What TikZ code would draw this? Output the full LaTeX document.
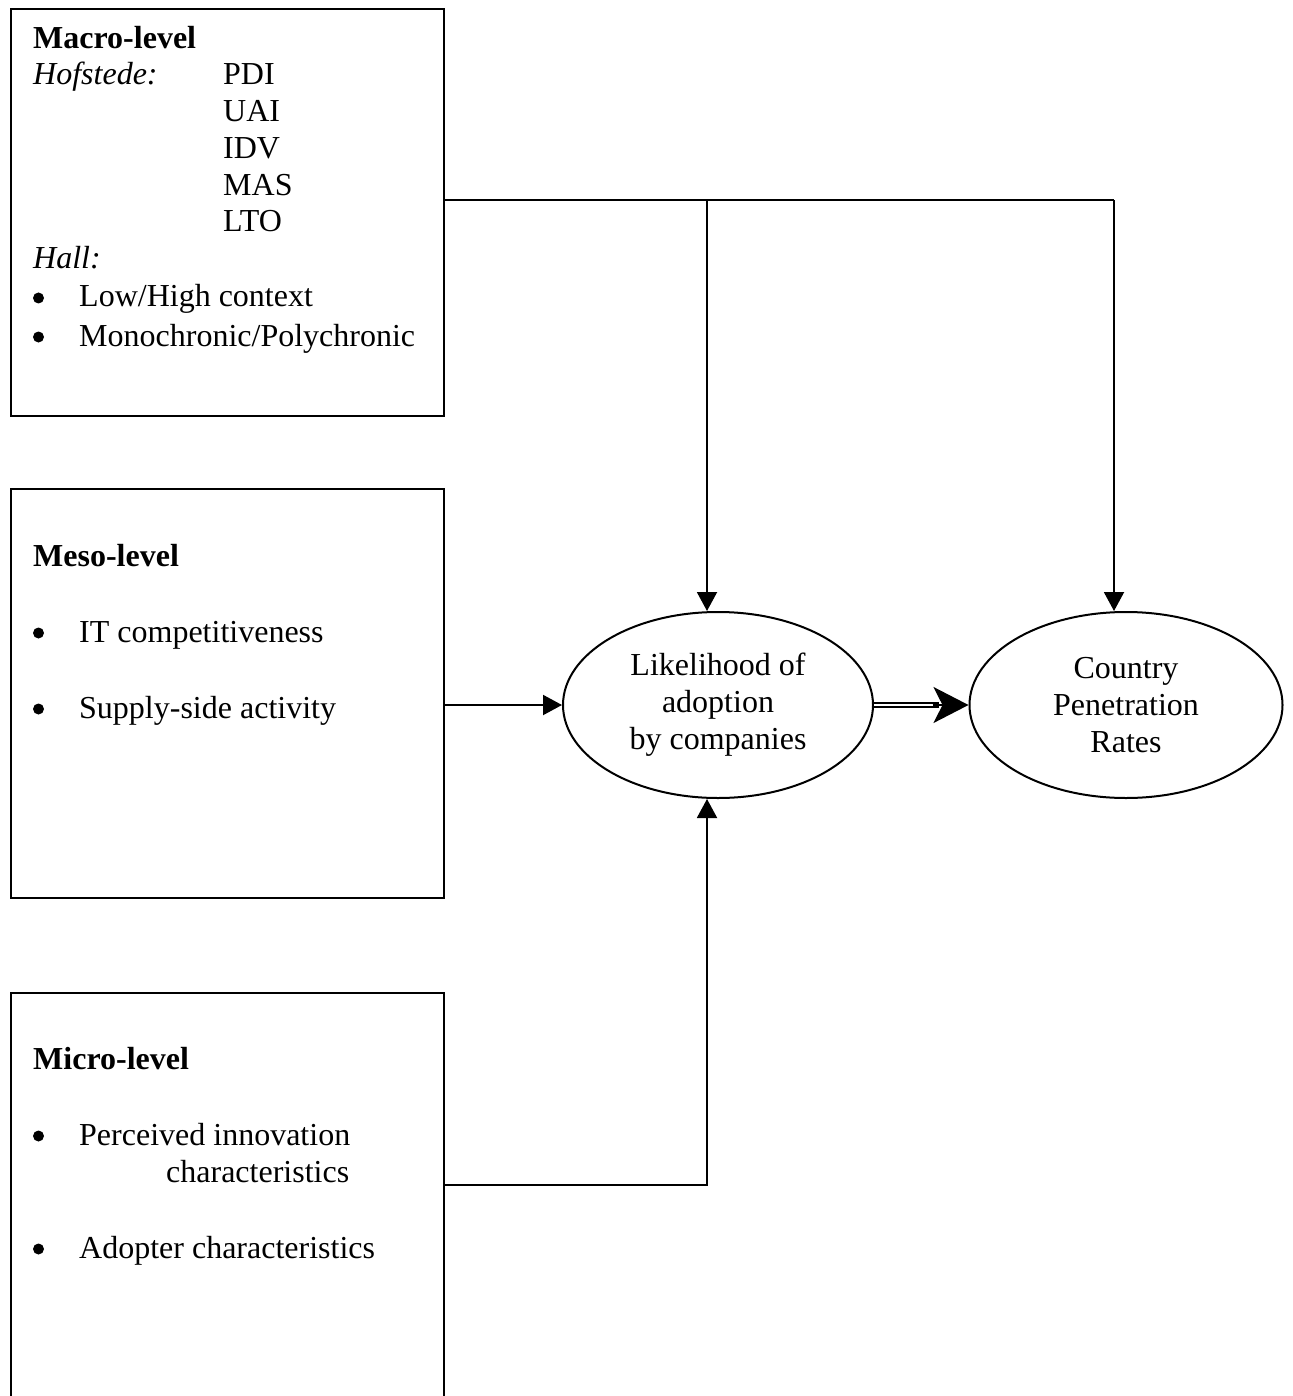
\documentclass[tikz,border=0pt]{standalone}
\usepackage{fontspec}
\setmainfont{Liberation Serif}
\usetikzlibrary{shapes.geometric,arrows.meta}
\begin{document}
\begin{tikzpicture}[x=1pt,y=-1pt,
  box/.style={draw,line width=2pt,rectangle,inner sep=0pt,minimum width=433pt,anchor=north west},
  oval/.style={draw,line width=2pt,ellipse,inner sep=0pt,minimum width=310pt,minimum height=186pt,align=center,font=\fontsize{32pt}{37pt}\selectfont},
  txt/.style={inner sep=0pt,anchor=base west,font=\fontsize{32pt}{37pt}\selectfont},
  dot/.style={circle,fill=black,inner sep=0pt,minimum size=11pt},
  conn/.style={line width=2pt},
  arr/.style={line width=2pt,-{Triangle[length=19pt,width=20pt]}}]
\clip (0,0) rectangle (1292,1396);
\fill[white] (0,0) rectangle (1292,1396);
% boxes
\node[box,minimum height=407pt] (macro) at (10,8) {};
\node[box,minimum height=409pt] (meso) at (10,488) {};
\node[box,minimum height=460pt] (micro) at (10,992) {};
% ellipses
\node[oval] (e1) at (718,705) {Likelihood of\\adoption\\by companies};
\node[oval,minimum width=313pt] (e2) at (1126,705) {Country\\Penetration\\Rates};
% macro text
\node[txt] (t1) at (33,49) {\textbf{Macro-level}};
\node[txt] (t2) at (33,85) {\textit{Hofstede:}};
\node[txt] (t3) at (223,85) {PDI};
\node[txt] (t4) at (223,122) {UAI};
\node[txt] (t5) at (223,159) {IDV};
\node[txt] (t6) at (223,196) {MAS};
\node[txt] (t7) at (223,232) {LTO};
\node[txt] (t8) at (33,269) {\textit{Hall:}};
\node[dot] (b1) at (38.5,298) {};
\node[txt] (t9) at (79,307) {Low/High context};
\node[dot] (b2) at (38.5,337) {};
\node[txt] (t10) at (79,346) {Monochronic/Polychronic};
% meso text
\node[txt] (s1) at (33,566) {\textbf{Meso-level}};
\node[dot] (b3) at (38.5,633) {};
\node[txt] (s2) at (79,642) {IT competitiveness};
\node[dot] (b4) at (38.5,709) {};
\node[txt] (s3) at (79,718) {Supply-side activity};
% micro text
\node[txt] (m1) at (33,1069) {\textbf{Micro-level}};
\node[dot] (b5) at (38.5,1136) {};
\node[txt] (m2) at (79,1145) {Perceived innovation};
\node[txt] (m3) at (166,1182) {characteristics};
\node[dot] (b6) at (38.5,1249) {};
\node[txt] (m4) at (79,1258) {Adopter characteristics};
% connectors
\coordinate (j) at (707,200);
\coordinate (k) at (1114,200);
\coordinate (m) at (707,1185);
\draw[conn] (macro.east |- j) -- (k);
\draw[arr] (k) -- (k |- e2.north);
\draw[arr] (j) -- (j |- e1.north);
\draw[arr] (meso.east |- e1.west) -- (e1.west);
\draw[arr] (micro.east |- m) -- (m) -- (m |- e1.south);
% double arrow
\draw[line width=2pt,double,double distance=2.5pt] (e1.east) -- ([xshift=-30pt]e2.west);
\draw[line width=1.5pt,-{Stealth[length=35pt,width=36pt,inset=9pt]}] ([xshift=-36pt]e2.west) -- (e2.west);
\end{tikzpicture}
\end{document}
